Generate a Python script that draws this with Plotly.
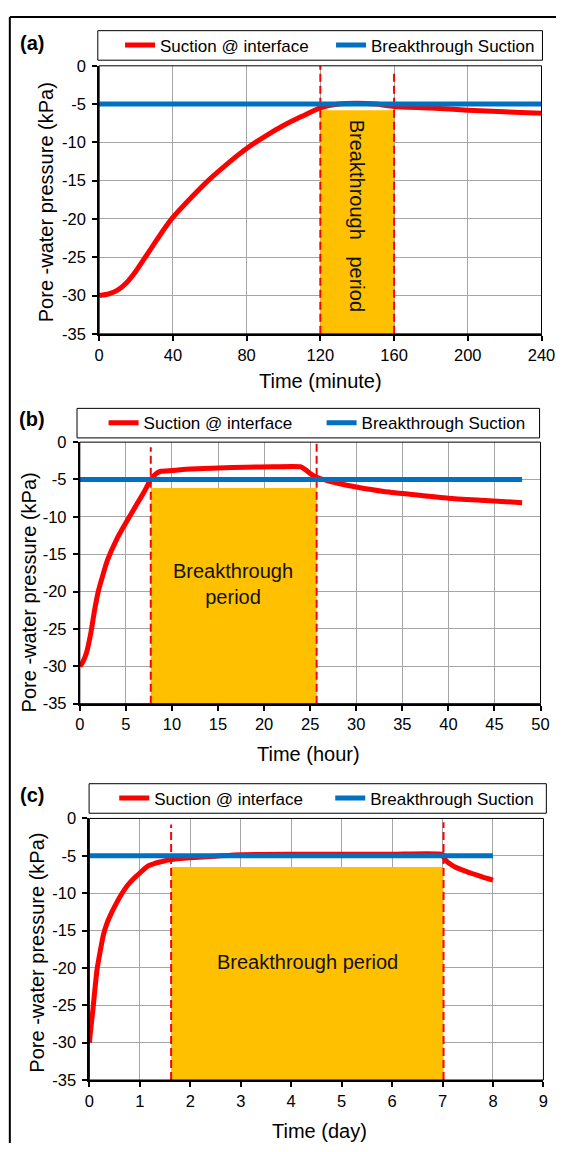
import plotly.graph_objects as go

# ---------------- data ----------------
time_a = [0, 5, 10, 15, 20, 25, 30, 35, 40, 50, 60, 70, 80, 90, 100, 110, 120,
          130, 140, 150, 160, 180, 200, 220, 240]
suction_a = [-30, -29.8, -29.3, -28.3, -26.8, -25.0, -23.2, -21.4, -19.8, -17.2,
             -14.8, -12.7, -10.8, -9.2, -7.8, -6.6, -5.5, -5.0, -4.9, -5.0, -5.3,
             -5.5, -5.8, -6.0, -6.2]

time_b = [0, 0.3, 0.7, 1.2, 1.6, 2, 2.5, 3, 4, 5, 6, 7, 7.7, 8.3, 8.8, 10, 12, 15,
          18, 21, 24, 24.5, 25, 25.7, 27, 28, 30, 33, 36, 40, 44, 48]
suction_b = [-30, -29.5, -28.3, -25.5, -22.5, -20.0, -17.8, -15.8, -13.0, -10.8,
             -8.7, -6.6, -5.0, -4.2, -3.9, -3.8, -3.6, -3.45, -3.35, -3.3, -3.3,
             -3.7, -4.2, -4.7, -5.2, -5.5, -6.0, -6.6, -7.0, -7.5, -7.8, -8.1]

time_c = [0, 0.03, 0.07, 0.1, 0.15, 0.2, 0.28, 0.35, 0.42, 0.5, 0.63, 0.75, 0.9,
          1.0, 1.15, 1.3, 1.45, 1.6, 1.8, 2.0, 2.5, 3, 4, 5, 6, 7, 7.03, 7.1, 7.2,
          7.3, 7.45, 7.6, 7.8, 8.0]
suction_c = [-30, -28, -25.6, -23.5, -20.3, -18.3, -15.5, -14, -12.9, -11.8, -10.2,
             -9.0, -7.9, -7.3, -6.4, -6.0, -5.75, -5.5, -5.35, -5.25, -5.05, -4.85,
             -4.8, -4.8, -4.8, -4.8, -5.3, -5.85, -6.3, -6.65, -7.05, -7.4, -7.85, -8.25]

breakthrough_x_a = [0, 240]
breakthrough_x_b = [0, 48]
breakthrough_x_c = [0, 8]
breakthrough_suction = [-5, -5]

period_a = [120, 160]
period_b = [7.7, 25.7]
period_c = [1.62, 7.02]
period_top = [-5.8, -6.15, -6.5]
dash_top_a = [0, -0.5]
dash_top_b = [-0.7, -0.2]
dash_top_c = [-0.8, -0.5]

x_ticks_a = [0, 40, 80, 120, 160, 200, 240]
x_ticks_b = [0, 5, 10, 15, 20, 25, 30, 35, 40, 45, 50]
x_ticks_c = [0, 1, 2, 3, 4, 5, 6, 7, 8, 9]
y_ticks = [0, -5, -10, -15, -20, -25, -30, -35]
y_tick_labels = ["0", "-5", "-10", "-15", "-20", "-25", "-30", "-35"]

panel_labels = ["(a)", "(b)", "(c)"]
x_titles = ["Time (minute)", "Time (hour)", "Time (day)"]
y_title = "Pore -water pressure (kPa)"
period_texts = ["Breakthrough   period", "Breakthrough<br>period", "Breakthrough period"]
series_names = ["Suction @ interface", "Breakthrough Suction"]

# ---------------- layout helpers ----------------
W, H = 570, 1152
FONT = "Arial, 'Liberation Sans', sans-serif"
RED = "#FF0000"
BLUE = "#0070C0"
ORANGE = "#FFC000"
GRID = "#A6A6A6"


def px(x):
    return x / W


def py(y):
    return 1 - y / H


panels = [
    dict(t=time_a, s=suction_a, bx=breakthrough_x_a, period=period_a, ptop=period_top[0],
         dtop=dash_top_a, xt=x_ticks_a, dom_x=(97.4, 555), dom_y=(57.7, 330),
         leg_box=(96, 22, 556, 52), leg_x=119, ew=166, txt_pos=(140, -19.6), angle=90,
         ytitle=(42, 196.7), xtitle=(326, 378), lab=(28, 35)),
    dict(t=time_b, s=suction_b, bx=breakthrough_x_b, period=period_b, ptop=period_top[1],
         dtop=dash_top_b, xt=x_ticks_b, dom_x=(77.4, 554), dom_y=(440, 705.7),
         leg_box=(74.5, 405.7, 553, 435.7), leg_x=102, ew=173, txt_pos=(16.6, -19.0), angle=0,
         ytitle=(24.5, 593), xtitle=(314, 757), lab=(28, 416.7)),
    dict(t=time_c, s=suction_c, bx=breakthrough_x_c, period=period_c, ptop=period_top[2],
         dtop=dash_top_c, xt=x_ticks_c, dom_x=(87.3, 557), dom_y=(822.3, 1088),
         leg_box=(87, 787, 560, 817), leg_x=113, ew=171, txt_pos=(4.33, -19.2), angle=0,
         ytitle=(32.7, 959), xtitle=(325, 1140), lab=(28, 798)),
]

fig = go.Figure()
shapes = []
annotations = []
layout = dict(
    width=W, height=H, margin=dict(l=0, r=0, t=0, b=0),
    paper_bgcolor="white", plot_bgcolor="white",
    font=dict(family=FONT, color="black", size=16),
)

for i, p in enumerate(panels):
    n = "" if i == 0 else str(i + 1)
    xa, ya = "x" + n, "y" + n
    leg = "legend" + n
    fig.add_trace(go.Scatter(x=p["t"], y=p["s"], mode="lines", name=series_names[0],
                             line=dict(color=RED, width=5, shape="spline", smoothing=0.5),
                             xaxis=xa, yaxis=ya, legend=leg))
    fig.add_trace(go.Scatter(x=p["bx"], y=breakthrough_suction, mode="lines",
                             name=series_names[1], line=dict(color=BLUE, width=5),
                             xaxis=xa, yaxis=ya, legend=leg))

    xr = [p["xt"][0], p["xt"][-1]]
    layout["xaxis" + n] = dict(
        domain=[px(p["dom_x"][0]), px(p["dom_x"][1])], range=xr, anchor=ya,
        tickvals=p["xt"], ticktext=[str(v) for v in p["xt"]],
        showgrid=True, gridcolor=GRID, gridwidth=1, zeroline=False,
        showline=True, linecolor="black", linewidth=2,
        ticks="outside", ticklen=5, tickwidth=1.5, tickcolor="black",
        tickfont=dict(size=16.5, color="black", family=FONT),
    )
    layout["yaxis" + n] = dict(
        domain=[py(p["dom_y"][1]), py(p["dom_y"][0])], range=[-35, 0], anchor=xa,
        tickvals=y_ticks, ticktext=y_tick_labels,
        showgrid=True, gridcolor=GRID, gridwidth=1, zeroline=False,
        showline=True, linecolor="black", linewidth=2,
        ticks="outside", ticklen=5, tickwidth=1.5, tickcolor="black",
        ticklabelstandoff=3,
        tickfont=dict(size=16.5, color="black", family=FONT),
    )
    lx0, ly0, lx1, ly1 = p["leg_box"]
    layout[leg] = dict(
        orientation="h", x=px(p["leg_x"]), xanchor="left",
        y=py((ly0 + ly1) / 2), yanchor="middle",
        bgcolor="rgba(0,0,0,0)", borderwidth=0,
        font=dict(size=17, family=FONT, color="black"),
        entrywidth=p["ew"], entrywidthmode="pixels", itemwidth=30,
        traceorder="normal",
    )
    # legend frame
    shapes.append(dict(type="rect", xref="paper", yref="paper",
                       x0=px(lx0), x1=px(lx1), y0=py(ly1), y1=py(ly0),
                       line=dict(color="black", width=1), fillcolor="rgba(0,0,0,0)"))
    # plot frame (top/right)
    shapes.append(dict(type="rect", xref=xa + " domain", yref=ya + " domain",
                       x0=0, x1=1, y0=0, y1=1, line=dict(color="black", width=1),
                       layer="above"))
    # breakthrough period box
    shapes.append(dict(type="rect", xref=xa, yref=ya, x0=p["period"][0], x1=p["period"][1],
                       y0=-35, y1=p["ptop"], fillcolor=ORANGE, line=dict(width=0),
                       layer="between"))
    for xv, yt in zip(p["period"], p["dtop"]):
        shapes.append(dict(type="line", xref=xa, yref=ya, x0=xv, x1=xv, y0=-35, y1=yt,
                           line=dict(color=RED, width=2, dash="8px,4px"),
                           layer="between"))
    annotations.append(dict(xref=xa, yref=ya, x=p["txt_pos"][0], y=p["txt_pos"][1],
                            text=period_texts[i], showarrow=False, textangle=p["angle"],
                            font=dict(size=20, family=FONT, color="#111111"),
                            xanchor="center", yanchor="middle"))
    annotations.append(dict(xref="paper", yref="paper", x=px(p["ytitle"][0]),
                            y=py(p["ytitle"][1]), text=y_title, showarrow=False,
                            textangle=-90, font=dict(size=20, family=FONT, color="black"),
                            xanchor="center", yanchor="middle"))
    annotations.append(dict(xref="paper", yref="paper", x=px(p["xtitle"][0]),
                            y=py(p["xtitle"][1]), text=x_titles[i], showarrow=False,
                            font=dict(size=20, family=FONT, color="black"),
                            xanchor="center", yanchor="middle"))
    annotations.append(dict(xref="paper", yref="paper", x=px(p["lab"][0]),
                            y=py(p["lab"][1]), text="<b>" + panel_labels[i] + "</b>",
                            showarrow=False, font=dict(size=20, family=FONT, color="black"),
                            xanchor="center", yanchor="middle"))

# outer figure border (top and left)
shapes.append(dict(type="line", xref="paper", yref="paper", x0=px(5), x1=1, y0=py(8), y1=py(8),
                   line=dict(color="black", width=2)))
shapes.append(dict(type="line", xref="paper", yref="paper", x0=px(5), x1=px(5), y0=0, y1=py(8),
                   line=dict(color="black", width=2)))

layout["shapes"] = shapes
layout["annotations"] = annotations
fig.update_layout(**layout)

page_fix = ("document.body.style.margin='0px';"
            "document.documentElement.style.overflow='hidden';")
fig.write_html("out.html", post_script=page_fix)
